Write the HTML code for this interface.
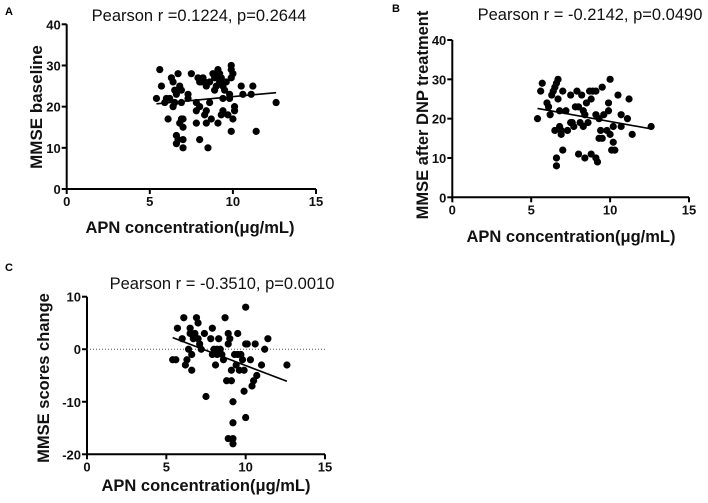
<!DOCTYPE html>
<html><head><meta charset="utf-8"><style>
body{margin:0;background:#fff}
svg{display:block;font-family:"Liberation Sans",Arial,sans-serif}
</style></head><body>
<svg id="fig" width="708" height="503" viewBox="0 0 708 503"></svg>
<script>
const aX=[5.6,5.4,5.7,5.9,6.0,6.1,6.3,6.4,6.5,6.6,6.7,6.5,6.4,6.6,6.6,6.7,6.8,6.9,6.9,6.8,7.0,7.0,7.0,7.0,6.9,7.3,7.5,7.3,7.8,7.8,7.8,7.9,8.0,8.0,8.1,8.2,8.3,8.4,8.4,8.4,8.3,8.5,8.6,8.6,8.7,8.8,8.9,8.9,9.0,9.1,9.2,9.2,9.1,9.3,9.3,9.4,9.4,9.5,9.6,9.7,9.8,9.8,9.9,9.9,9.9,10.0,9.9,10.0,10.1,10.1,10.5,10.6,11.1,11.2,11.4,12.6,9.4,8.0,6.2];
const aY=[29,22,25,21,22,17,27,26,24,23,28,21,20,13,11,12,25,24,17,16,17,15,10,12,21,23,28,22,21,19,16,27,26,12,26,27,26,25,19,16,18,10,21,26,17,28,27,24,25,29,28,26,16,27,18,19,25,24,26,18,23,22,30,29,27,28,14,17,20,19,25,23,23,25,14,21,22,20,22];
const aFit=[[5.4,20.7],[12.6,23.4]];
const bX=[5.4,5.6,5.7,6.0,6.1,6.2,6.3,6.4,6.5,6.6,6.7,6.7,6.5,6.6,6.6,6.8,6.9,6.9,7.0,6.8,7.0,7.2,7.5,7.5,7.6,7.7,7.8,7.9,8.0,8.0,8.2,8.3,8.3,8.4,8.4,8.5,8.6,8.7,8.8,8.8,8.9,9.1,9.1,9.2,9.1,9.3,9.3,9.4,9.5,9.5,9.6,9.8,9.9,9.9,10.0,10.0,10.1,10.2,10.2,10.3,10.5,10.7,10.7,11.1,11.2,11.4,12.6,7.3,8.1];
const bY=[20,27,29,24,23,21,26,27,28,29,30,25,17,10,8,18,17,16,12,22,27,22,26,19,19,18,23,27,11,23,26,22,18,10,21,24,19,27,25,11,27,27,10,9,21,20,15,17,28,15,21,17,24,22,30,16,12,18,14,12,26,21,18,20,25,16,18,17,19];
const bFit=[[5.4,22.6],[12.6,17.4]];
const cX=[5.4,5.6,5.7,6.0,6.1,6.2,6.3,6.4,6.5,6.5,6.6,6.6,6.7,6.8,6.9,7.0,7.0,7.1,7.2,7.4,7.5,7.8,7.9,7.9,8.0,8.1,8.2,8.3,8.4,8.5,8.6,8.7,8.8,8.9,8.9,8.9,9.0,9.1,9.1,9.2,9.2,9.2,9.2,9.3,9.4,9.5,9.6,9.7,9.8,9.9,9.9,10.0,10.0,10.0,10.1,10.3,10.4,10.5,10.6,10.7,11.0,11.2,11.4,12.6,8.2,9.5];
const cY=[-2,-2,4,2,6,-3,-2,0,3,4,-4,-1,2,3,6,5,2,1,0,3,-9,2,4,-1,0,-3,-1,2,0,-1,-2,6,-6,3,1,-17,2,-4,-6,-10,-14,-17,-18,-1,-3,3,-4,-1,-2,-4,-8,-13,1,8,1,-2,-7,-6,1,-5,-3,0,2,-3,0,-1];
const cFit=[[5.4,2.2],[12.6,-6.1]];
const xTicks=[0,5,10,15];
const aTicks=[0,10,20,30,40], bTicks=[0,10,20,30,40], cTicks=[-20,-10,0,10];

const NS="http://www.w3.org/2000/svg";
const svg=document.getElementById('fig');
function mk(tag,attrs,parent,text){const e=document.createElementNS(NS,tag);for(const k in attrs)e.setAttribute(k,attrs[k]);if(text!==undefined)e.textContent=text;(parent||svg).appendChild(e);return e;}

function panel(p){
  const g=mk('g',{});
  
  
  const sx=v=>p.x0+(v-0)/15*(p.x1-p.x0);
  const sy=v=>p.yb+(v-p.ymin)/(p.ymax-p.ymin)*(p.yt-p.yb);
  const ax=mk('g',{stroke:'#000','stroke-width':2,fill:'none'},g);
  
  
  mk('line',{x1:p.x0,y1:p.yb+1,x2:p.x0,y2:p.yt},ax);
  mk('line',{x1:p.x0-1,y1:p.yb,x2:p.x1,y2:p.yb},ax);
  xTicks.forEach(t=>{
    mk('line',{x1:sx(t),y1:p.yb,x2:sx(t),y2:p.yb+5},ax);
    const tl=mk('text',{x:sx(t),y:p.yb+17,'text-anchor':'middle','font-size':13,'font-weight':'bold',fill:'#111'},g,t);
    
    
  });
  p.ticks.forEach(t=>{
    mk('line',{x1:p.x0-5,y1:sy(t),x2:p.x0,y2:sy(t)},ax);
    const tl=mk('text',{x:p.x0-6,y:sy(t)+5,'text-anchor':'end','font-size':13,'font-weight':'bold',fill:'#111'},g,t);
    
    
  });
  if(p.zero){
    const z=mk('line',{x1:p.x0,y1:sy(0),x2:p.x1,y2:sy(0),stroke:'#555','stroke-width':1,'stroke-dasharray':'1,2'},g);
    
    
  }
  p.xs.forEach((v,i)=>{
    const c=mk('circle',{cx:sx(v),cy:sy(p.ys[i]),r:3.6,fill:'#000'},g);
    
    
  });
  const f=mk('line',{x1:sx(p.fit[0][0]),y1:sy(p.fit[0][1]),x2:sx(p.fit[1][0]),y2:sy(p.fit[1][1]),stroke:'#000','stroke-width':1.6},g);
  
  
  const ti=mk('text',{x:p.tx,y:p.ty,'text-anchor':'middle','font-size':16.5,fill:'#111'},g,p.title);
  
  
  const xl=mk('text',{x:p.xlx,y:p.xly,'text-anchor':'middle','font-size':16.5,'font-weight':'bold',fill:'#111'},g,'APN concentration(μg/mL)');
  
  
  const yl=mk('text',{x:0,y:0,'text-anchor':'middle','font-size':p.ylfs,'font-weight':'bold',fill:'#111',transform:`translate(${p.ylx},${p.yly}) rotate(-90)`},g,p.ylabel);
  
  
  const lt=mk('text',{x:p.lx,y:p.ly,'font-size':11,'font-weight':'bold',fill:'#000'},g,p.letter);
  
  
}
panel({id:'a',x0:66.7,x1:316,yb:189,yt:24.3,ymin:0,ymax:40,ticks:aTicks,xs:aX,ys:aY,fit:aFit,
  title:'Pearson r =0.1224, p=0.2644',tx:199,ty:21,xlx:190,xly:233,ylabel:'MMSE baseline',ylfs:17,ylx:42,yly:107,lx:5,ly:15,letter:'A'});
panel({id:'b',x0:452.3,x1:689,yb:197.3,yt:40,ymin:0,ymax:40,ticks:bTicks,xs:bX,ys:bY,fit:bFit,
  title:'Pearson r = -0.2142, p=0.0490',tx:590,ty:20,xlx:571,xly:242,ylabel:'MMSE after DNP treatment',ylfs:16.5,ylx:428,yly:115,lx:392,ly:12,letter:'B'});
panel({id:'c',x0:87,x1:325,yb:454.3,yt:296.7,ymin:-20,ymax:10,ticks:cTicks,xs:cX,ys:cY,fit:cFit,zero:true,
  title:'Pearson r = -0.3510, p=0.0010',tx:222,ty:289,xlx:206,xly:491,ylabel:'MMSE scores change',ylfs:16.5,ylx:49,yly:378,lx:5,ly:271,letter:'C'});
</script>
</body></html>
